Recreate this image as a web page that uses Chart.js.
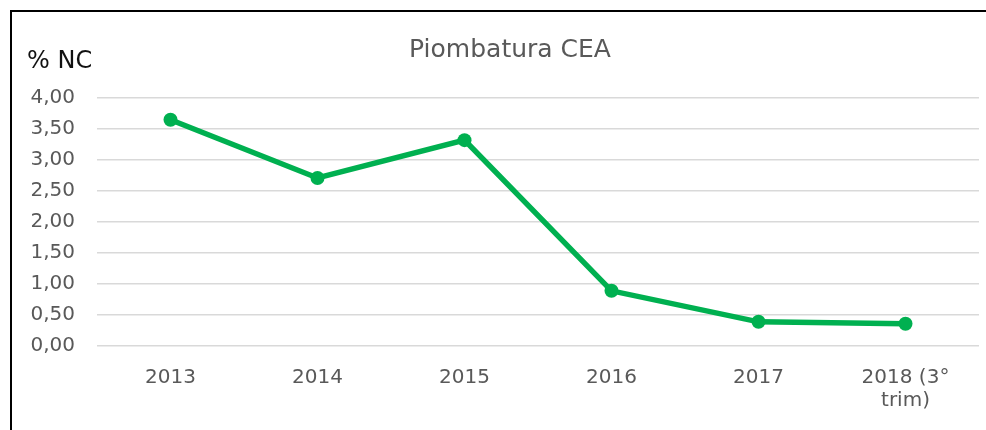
<!DOCTYPE html>
<html>
<head>
<meta charset="utf-8">
<script src="https://cdn.jsdelivr.net/npm/chart.js@4.4.0/dist/chart.umd.min.js"></script>
<style>
  html, body { margin: 0; padding: 0; background: #fff; overflow: hidden; }
  #wrap { position: relative; width: 986px; height: 430px; }
  #frame { position: absolute; left: 10px; top: 10px; width: 990px; height: 440px; border: 2px solid #000; box-sizing: border-box; pointer-events: none; }
  canvas { position: absolute; left: 0; top: 0; }
</style>
</head>
<body>
<div id="wrap">
  <canvas id="c" width="986" height="430"></canvas>
  <div id="frame"></div>
</div>
<script>
const categories = ['2013', '2014', '2015', '2016', '2017', ['2018 (3°', 'trim)']];
const ncPercent = [3.65, 2.71, 3.32, 0.89, 0.39, 0.36];
const titleText = 'Piombatura CEA';
const yAxisLabel = '% NC';
const yTicks = { min: 0, max: 4, step: 0.5 };

const FONT = "'DejaVu Sans', 'Noto Sans', sans-serif";

const textPlugin = {
  id: 'texts',
  afterDraw(chart) {
    const ctx = chart.ctx;
    ctx.save();
    ctx.textBaseline = 'middle';
    ctx.font = '25px ' + FONT;
    ctx.fillStyle = '#595959';
    ctx.textAlign = 'center';
    ctx.fillText(titleText, 510, 50);
    ctx.font = '24px ' + FONT;
    ctx.fillStyle = '#111111';
    ctx.textAlign = 'left';
    ctx.fillText(yAxisLabel, 27, 62);
    ctx.restore();
  }
};

new Chart(document.getElementById('c'), {
  type: 'line',
  data: {
    labels: categories,
    datasets: [{
      data: ncPercent,
      borderColor: '#00B050',
      backgroundColor: '#00B050',
      borderWidth: 5.5,
      pointRadius: 7,
      pointHoverRadius: 7,
      pointBorderWidth: 0,
      tension: 0,
      fill: false
    }]
  },
  options: {
    responsive: false,
    animation: false,
    devicePixelRatio: 1,
    layout: { padding: { left: 24, right: 7, top: 98, bottom: 0 } },
    plugins: {
      legend: { display: false },
      tooltip: { enabled: false },
      title: { display: false }
    },
    scales: {
      x: {
        offset: true,
        afterFit(scale) { scale.height = 84; },
        grid: { display: false, drawTicks: false },
        border: { display: false },
        ticks: {
          color: '#595959',
          font: { family: FONT, size: 20, lineHeight: 1.15 },
          padding: 20,
          maxRotation: 0,
          autoSkip: false
        }
      },
      y: {
        min: yTicks.min,
        max: yTicks.max,
        afterFit(scale) { scale.width = 73; },
        grid: { color: '#D9D9D9', lineWidth: 1.5, drawTicks: false },
        border: { display: false },
        ticks: {
          stepSize: yTicks.step,
          color: '#595959',
          font: { family: FONT, size: 20 },
          padding: 22,
          callback: v => v.toFixed(2).replace('.', ',')
        }
      }
    }
  },
  plugins: [textPlugin]
});
</script>
</body>
</html>
